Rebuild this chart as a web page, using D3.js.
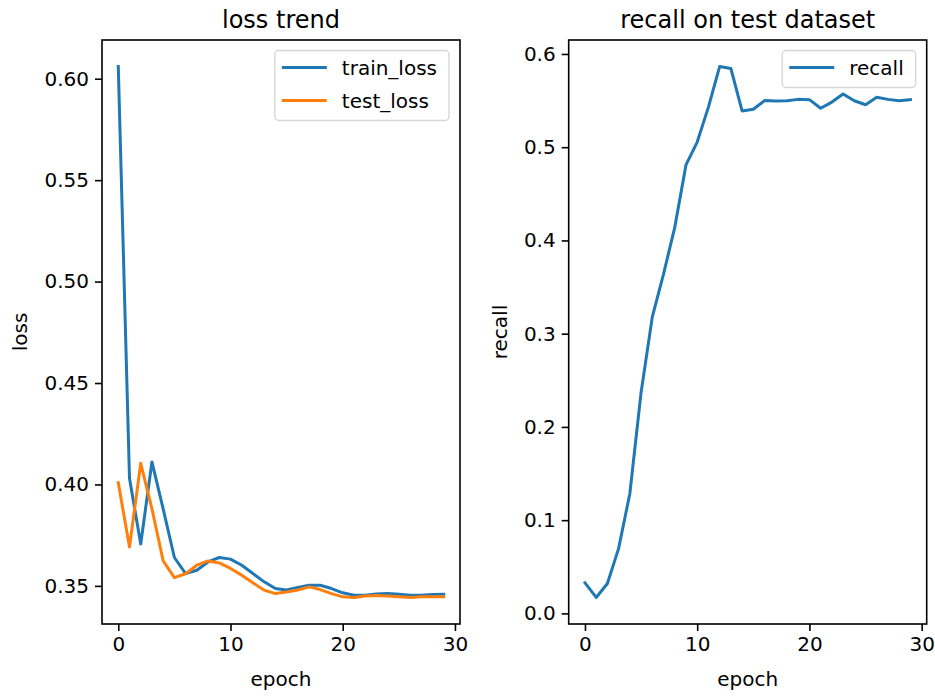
<!DOCTYPE html>
<html>
<head>
<meta charset="utf-8">
<script src="https://cdnjs.cloudflare.com/ajax/libs/d3/7.8.5/d3.min.js"></script>
<style>
  body { margin: 0; background: #fff; }
  text { font-family: "DejaVu Sans", sans-serif; fill: #000; }
</style>
</head>
<body>
<script>
//two matplotlib-style panels: loss trend + recall

var w = 935, h = 697;

var epochs = [0,1,2,3,4,5,6,7,8,9,10,11,12,13,14,15,16,17,18,19,20,21,22,23,24,25,26,27,28,29];

var trainLoss = [0.606, 0.403, 0.3706, 0.4111, 0.388, 0.364, 0.3561, 0.3577, 0.3618, 0.364,
                 0.3632, 0.3602, 0.3561, 0.352, 0.3487, 0.348, 0.3492, 0.3503, 0.3503, 0.3487,
                 0.3466, 0.3454, 0.3454, 0.346, 0.3462, 0.3459, 0.3454, 0.3454, 0.3457, 0.3459];

var testLoss = [0.4008, 0.3692, 0.4104, 0.388, 0.3623, 0.3541, 0.356, 0.3602, 0.3623, 0.3613,
                0.3586, 0.3553, 0.3515, 0.3479, 0.3462, 0.347, 0.348, 0.3495, 0.3482, 0.3462,
                0.3446, 0.3443, 0.345, 0.3453, 0.345, 0.3446, 0.3443, 0.3446, 0.3447, 0.3447];

var recall = [0.0328, 0.0171, 0.0321, 0.0697, 0.1286, 0.237, 0.318, 0.364, 0.414, 0.481,
              0.5055, 0.543, 0.5865, 0.5844, 0.5389, 0.5407, 0.550, 0.5495, 0.5498, 0.5513,
              0.551, 0.5418, 0.5484, 0.5571, 0.5498, 0.5455, 0.5535, 0.5513, 0.5498, 0.551];

var xTicks = [0, 10, 20, 30];
var lossTicks = [0.35, 0.40, 0.45, 0.50, 0.55, 0.60];
var recallTicks = [0.0, 0.1, 0.2, 0.3, 0.4, 0.5, 0.6];

var blue = "#1f77b4", orange = "#ff7f0e";

//panel boxes
var plotTop = 40, plotBottom = 624;
var panels = [
    { x0: 102, x1: 460, title: "loss trend", ylab: "loss", ylabX: 20,
      series: [{ name: "train_loss", values: trainLoss, color: blue },
               { name: "test_loss", values: testLoss, color: orange }],
      ticks: lossTicks, fmt: d3.format(".2f") },
    { x0: 568.7, x1: 926.7, title: "recall on test dataset", ylab: "recall", ylabX: 500,
      series: [{ name: "recall", values: recall, color: blue }],
      ticks: recallTicks, fmt: d3.format(".1f") }
];

var svg = d3.select("body").append("svg")
    .attr("width", w)
    .attr("height", h);

//matplotlib adds 5% margin on each side of the data
function padded(ext) {
    var m = (ext[1] - ext[0]) * 0.05;
    return [ext[0] - m, ext[1] + m];
}

panels.forEach(function(p) {
    var x = d3.scaleLinear()
        .domain(padded(d3.extent(epochs)))
        .range([p.x0, p.x1]);

    var allVals = [];
    p.series.forEach(function(s) { allVals = allVals.concat(s.values); });
    var y = d3.scaleLinear()
        .domain(padded(d3.extent(allVals)))
        .range([plotBottom, plotTop]);

    //x axis
    var xa = svg.append("g")
        .attr("transform", "translate(0," + plotBottom + ")")
        .call(d3.axisBottom(x).tickValues(xTicks).tickSize(7).tickPadding(6).tickSizeOuter(0));
    xa.select(".domain").remove();
    xa.selectAll("line").attr("stroke", "#000").attr("stroke-width", 1.6);
    xa.selectAll("text").style("font-size", "20px").attr("fill", "#000");

    //y axis
    var ya = svg.append("g")
        .attr("transform", "translate(" + p.x0 + ",0)")
        .call(d3.axisLeft(y).tickValues(p.ticks).tickFormat(p.fmt).tickSize(7).tickPadding(6).tickSizeOuter(0));
    ya.select(".domain").remove();
    ya.selectAll("line").attr("stroke", "#000").attr("stroke-width", 1.6);
    ya.selectAll("text").style("font-size", "20px").attr("fill", "#000");

    //lines
    var line = d3.line()
        .x(function(d, i) { return x(epochs[i]); })
        .y(function(d) { return y(d); });

    p.series.forEach(function(s) {
        svg.append("path")
            .datum(s.values)
            .attr("d", line)
            .attr("fill", "none")
            .attr("stroke", s.color)
            .attr("stroke-width", 3)
            .attr("stroke-linejoin", "round")
            .attr("stroke-linecap", "square");
    });

    //spines
    svg.append("rect")
        .attr("x", p.x0)
        .attr("y", plotTop)
        .attr("width", p.x1 - p.x0)
        .attr("height", plotBottom - plotTop)
        .attr("fill", "none")
        .attr("stroke", "#000")
        .attr("stroke-width", 1.6);

    //title
    svg.append("text")
        .attr("x", (p.x0 + p.x1) / 2)
        .attr("y", 28)
        .attr("text-anchor", "middle")
        .style("font-size", "24px")
        .text(p.title);

    //axis labels
    svg.append("text")
        .attr("x", (p.x0 + p.x1) / 2)
        .attr("y", 686)
        .attr("text-anchor", "middle")
        .style("font-size", "20px")
        .text("epoch");

    svg.append("text")
        .attr("transform", "translate(" + p.ylabX + "," + ((plotTop + plotBottom) / 2) + ") rotate(-90)")
        .attr("text-anchor", "middle")
        .attr("dy", "0.35em")
        .style("font-size", "20px")
        .text(p.ylab);

    //legend, upper right
    var lg = svg.append("g");
    var rowH = 33;
    var box = lg.append("rect")
        .attr("rx", 4)
        .attr("fill", "#fff")
        .attr("fill-opacity", 0.8)
        .attr("stroke", "#d6d6d6")
        .attr("stroke-width", 1.4);
    var maxW = 0;
    p.series.forEach(function(s, i) {
        var cy = 17 + i * rowH;
        lg.append("line")
            .attr("x1", 7).attr("x2", 52)
            .attr("y1", cy).attr("y2", cy)
            .attr("stroke", s.color)
            .attr("stroke-width", 3);
        var t = lg.append("text")
            .attr("x", 67)
            .attr("y", cy)
            .attr("dy", "0.35em")
            .style("font-size", "20px")
            .text(s.name);
        maxW = Math.max(maxW, t.node().getComputedTextLength());
    });
    var bw = 67 + maxW + 12;
    var bh = 17 + (p.series.length - 1) * rowH + 20;
    box.attr("width", bw).attr("height", bh);
    lg.attr("transform", "translate(" + (p.x1 - 11 - bw) + "," + (plotTop + 10.5) + ")");
});
</script>
</body>
</html>
